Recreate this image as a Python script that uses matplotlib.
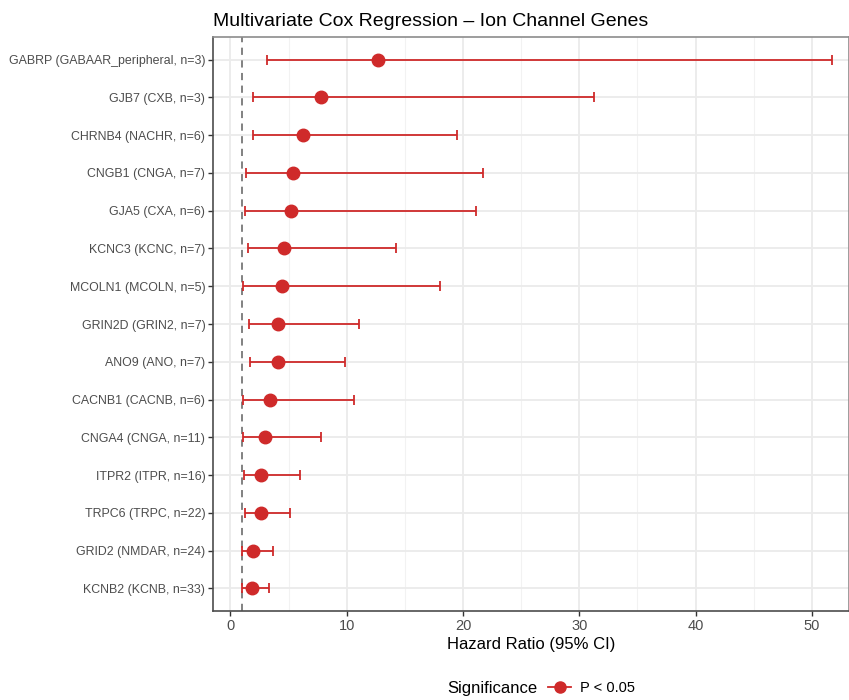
import matplotlib.pyplot as plt
from matplotlib.lines import Line2D
import numpy as np

plt.rcParams['font.family'] = ['Liberation Sans', 'DejaVu Sans']

# genes from top to bottom
labels = ['GABRP (GABAAR_peripheral, n=3)', 'GJB7 (CXB, n=3)', 'CHRNB4 (NACHR, n=6)',
          'CNGB1 (CNGA, n=7)', 'GJA5 (CXA, n=6)', 'KCNC3 (KCNC, n=7)',
          'MCOLN1 (MCOLN, n=5)', 'GRIN2D (GRIN2, n=7)', 'ANO9 (ANO, n=7)',
          'CACNB1 (CACNB, n=6)', 'CNGA4 (CNGA, n=11)', 'ITPR2 (ITPR, n=16)',
          'TRPC6 (TRPC, n=22)', 'GRID2 (NMDAR, n=24)', 'KCNB2 (KCNB, n=33)']
hr = [12.7, 7.76, 6.2, 5.37, 5.2, 4.57, 4.45, 4.08, 4.05, 3.39, 2.93, 2.64, 2.61, 1.92, 1.86]
ci_low = [3.16, 1.92, 1.98, 1.32, 1.26, 1.49, 1.09, 1.58, 1.66, 1.09, 1.09, 1.17, 1.29, 1.0, 1.03]
ci_high = [51.75, 31.3, 19.5, 21.7, 21.1, 14.2, 18.0, 11.06, 9.85, 10.6, 7.78, 5.95, 5.11, 3.62, 3.33]

red = '#CF2A2A'

fig = plt.figure(figsize=(8.49, 7.0), dpi=100)
ax = fig.add_axes([213 / 849, 1 - 611 / 700, 636 / 849, 574 / 700])

y = np.arange(len(labels))[::-1] + 1
hr = np.array(hr)
lo = np.array(ci_low)
hi = np.array(ci_high)

# grid (theme_bw style)
for v in np.arange(5, 55, 10):
    ax.axvline(v, color='#F2F2F2', lw=0.8, zorder=0)
for v in np.arange(0, 55, 10):
    ax.axvline(v, color='#EBEBEB', lw=1.3, zorder=0)
for v in y:
    ax.axhline(v, color='#EBEBEB', lw=1.3, zorder=0)

ax.axvline(1, color='#777777', lw=1.3, ls=(0, (4, 3)), zorder=1)

ax.errorbar(hr, y, xerr=[hr - lo, hi - hr], fmt='none', ecolor=red,
            elinewidth=1.3, capsize=3.6, capthick=1.3, zorder=2)
ax.plot(hr, y, 'o', color=red, ms=9, zorder=3)

ax.set_xlim(-1.5, 53.2)
ax.set_ylim(0.4, len(labels) + 0.6)
ax.set_yticks(y)
ax.set_yticklabels(labels, fontsize=8.9, color='#4D4D4D')
ax.set_xticks(np.arange(0, 51, 10))
ax.tick_params(axis='x', labelsize=10.5, labelcolor='#4D4D4D', color='#333333',
               length=3.5, width=1, pad=2)
ax.tick_params(axis='y', color='#333333', length=3.5, width=1, pad=2)
ax.set_xlabel('Hazard Ratio (95% CI)', fontsize=12, labelpad=3)

for s in ['left', 'bottom']:
    ax.spines[s].set_color('#4D4D4D')
    ax.spines[s].set_linewidth(1.2)
for s in ['top', 'right']:
    ax.spines[s].set_color('#8C8C8C')
    ax.spines[s].set_linewidth(1.2)

ax.set_title('Multivariate Cox Regression \u2013 Ion Channel Genes', fontsize=14,
             loc='left', pad=8)

# legend at bottom
fig.text(447 / 849, 1 - 688 / 700, 'Significance', fontsize=12, va='center', ha='left')
handle = Line2D([], [], color=red, marker='o', ms=8, lw=1.3)
fig.legend([handle], ['P < 0.05'], loc='center left',
           bbox_to_anchor=(535 / 849, 1 - 688 / 700), frameon=False,
           fontsize=10.5, handlelength=1.6, handletextpad=0.6)

fig.savefig('out.png', dpi=100)
